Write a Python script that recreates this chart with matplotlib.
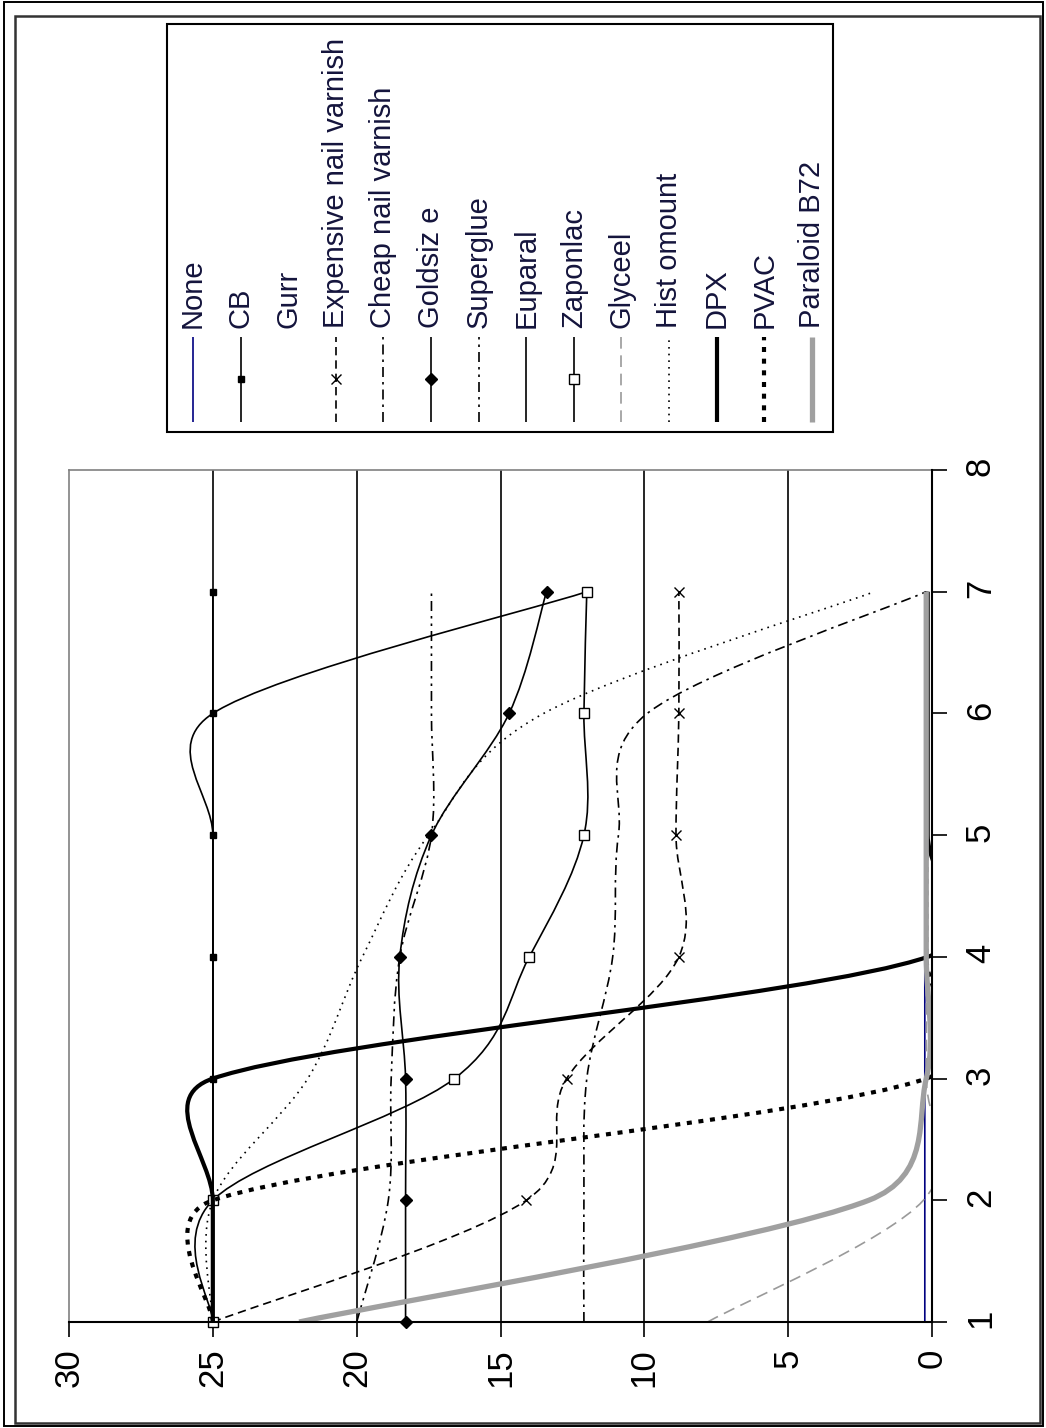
import numpy as np
import matplotlib.pyplot as plt
from matplotlib.path import Path
from matplotlib.patches import PathPatch, Rectangle

plt.rcParams['font.family'] = ['Liberation Sans', 'DejaVu Sans']

days = [1, 2, 3, 4, 5, 6, 7]

none_vals = [0.25, 0.25, 0.25, 0.25, 0.25, 0.25, 0.25]
cb = [25, 25, 25, 25, 25, 25, 25]
expensive = [25, 14.1, 12.7, 8.8, 8.9, 8.8, 8.8]
cheap = [12.1, 12.1, 12.0, 11.1, 10.9, 9.9, 0.2]
goldsize = [18.3, 18.3, 18.3, 18.5, 17.4, 14.7, 13.4]
superglue = [20.0, 18.9, 18.8, 18.5, 17.4, 17.4, 17.4]
euparal = [25, 25, 25, 25, 25, 25, 12.0]
zaponlac = [25, 25, 16.6, 14.0, 12.1, 12.1, 12.0]
glyceel = [7.8, 0.3, 0.2, 0.2, 0.2, 0.2, 0.2]
histomount = [25, 25, 21.7, 19.8, 17.5, 13.5, 2.0]
dpx = [25, 25, 25, 0.15, 0.15, 0.15, 0.15]
pvac = [25, 25, 0.2, 0.2, 0.2, 0.2, 0.2]
paraloid = [22.0, 2.2, 0.2, 0.2, 0.2, 0.2, 0.2]

# name, values, colour, linewidth, dashes, marker, markersize, marker face
styles = [
    ('None', none_vals, '#000080', 1.2, None, None, 0, None),
    ('CB', cb, 'black', 1.2, None, 's', 4, 'black'),
    ('Gurr', None, None, 0, None, None, 0, None),
    ('Expensive nail varnish', expensive, 'black', 1.2, (0, (5, 3)), 'x', 7, 'black'),
    ('Cheap nail varnish', cheap, 'black', 1.2, (0, (6, 3, 1.5, 3)), None, 0, None),
    ('Goldsiz e', goldsize, 'black', 1.2, None, 'D', 6, 'black'),
    ('Superglue', superglue, 'black', 1.2, (0, (6, 3, 1.5, 3, 1.5, 3)), None, 0, None),
    ('Euparal', euparal, 'black', 1.2, None, None, 0, None),
    ('Zaponlac', zaponlac, 'black', 1.2, None, 's', 7, 'white'),
    ('Glyceel', glyceel, '#9a9a9a', 1.2, (0, (7, 4)), None, 0, None),
    ('Hist omount', histomount, 'black', 1.2, (0, (1, 3)), None, 0, None),
    ('DPX', dpx, 'black', 3.0, None, None, 0, None),
    ('PVAC', pvac, 'black', 3.0, (0, (1.2, 1.6)), None, 0, None),
    ('Paraloid B72', paraloid, '#a0a0a0', 3.8, None, None, 0, None),
]


def excel_smooth(vals, xs, sx, sy):
    # Bezier smoothing the way Excel does it, worked out in screen units
    p = np.column_stack([np.asarray(vals, float) * sx, np.asarray(xs, float) * sy])
    n = len(p)
    verts = [p[0]]
    codes = [Path.MOVETO]
    for i in range(n - 1):
        p0 = p[max(i - 1, 0)]
        p1 = p[i]
        p2 = p[i + 1]
        p3 = p[min(i + 2, n - 1)]
        d12 = np.hypot(*(p2 - p1))
        d02 = np.hypot(*(p2 - p0))
        d13 = np.hypot(*(p3 - p1))
        f1 = 1 / 6
        if d02 > 0 and d02 / 6 > d12 / 2:
            f1 = d12 / (2 * d02)
        f2 = 1 / 6
        if d13 > 0 and d13 / 6 > d12 / 2:
            f2 = d12 / (2 * d13)
        verts += [p1 + f1 * (p2 - p0), p2 - f2 * (p3 - p1), p2]
        codes += [Path.CURVE4] * 3
    verts = np.array(verts) / [sx, sy]
    return Path(verts, codes)


fig = plt.figure(figsize=(10.46, 14.28), dpi=100)

ax = fig.add_axes([69 / 1046, 1 - 1322 / 1428, (932 - 69) / 1046, (1322 - 470) / 1428])
ax.set_xlim(30, 0)
ax.set_ylim(1, 8)

for side in ['top', 'left']:
    ax.spines[side].set_color('#808080')
    ax.spines[side].set_linewidth(1.2)
for side in ['bottom', 'right']:
    ax.spines[side].set_color('black')
    ax.spines[side].set_linewidth(1.5)
    ax.spines[side].set_zorder(30)

for v in [5, 10, 15, 20, 25]:
    ax.axvline(v, color='black', lw=1.2, zorder=1)

ax.set_xticks(range(0, 31, 5))
ax.yaxis.tick_right()
ax.set_yticks(range(1, 9))
ax.tick_params(axis='x', direction='out', length=11, width=1.2, labelsize=25,
               pad=8, labelrotation=90)
ax.tick_params(axis='y', direction='out', length=11, width=1.2, labelsize=25,
               pad=12, labelrotation=90)

# pixels per data unit, to smooth like Excel does on screen
o = ax.transData.transform([(0, 1), (1, 2)])
sx = abs(o[1, 0] - o[0, 0])
sy = abs(o[1, 1] - o[0, 1])

for k, (name, vals, color, lw, dashes, marker, ms, mfc) in enumerate(styles):
    if vals is None:
        continue
    patch = PathPatch(excel_smooth(vals, days, sx, sy), fill=False, edgecolor=color,
                      lw=lw, zorder=3 + k, capstyle='butt')
    if dashes is not None:
        patch.set_linestyle(dashes)
    ax.add_patch(patch)
    if marker is not None:
        ax.plot(vals, days, linestyle='none', marker=marker, ms=ms, mfc=mfc,
                mec='black', mew=1.0, zorder=3 + k, clip_on=False)

# overlay in pixel units for the frame and the legend
ov = fig.add_axes([0, 0, 1, 1])
ov.set_xlim(0, 1046)
ov.set_ylim(1428, 0)
ov.axis('off')

ov.add_patch(Rectangle((4, 2), 1039, 1424, fill=False, ec='black', lw=1.4))
ov.add_patch(Rectangle((15, 16), 1025, 1407, fill=False, ec='#333333', lw=1.8))
ov.add_patch(Rectangle((167, 24), 666, 408, fill=False, ec='black', lw=1.5))

x0 = 193
step = 47.6
for k, (name, vals, color, lw, dashes, marker, ms, mfc) in enumerate(styles):
    xk = x0 + k * step
    if vals is not None:
        ln, = ov.plot([xk, xk], [422, 337], color=color, lw=lw, solid_capstyle='butt')
        if dashes is not None:
            ln.set_linestyle(dashes)
        if marker is not None:
            ov.plot([xk], [379], marker=marker, ms=ms, mfc=mfc, mec='black', mew=1.0)
    ov.text(xk, 328, name, rotation=90, ha='center', va='bottom', fontsize=21,
            color='#14143c')

fig.savefig('out.png', dpi=100)
